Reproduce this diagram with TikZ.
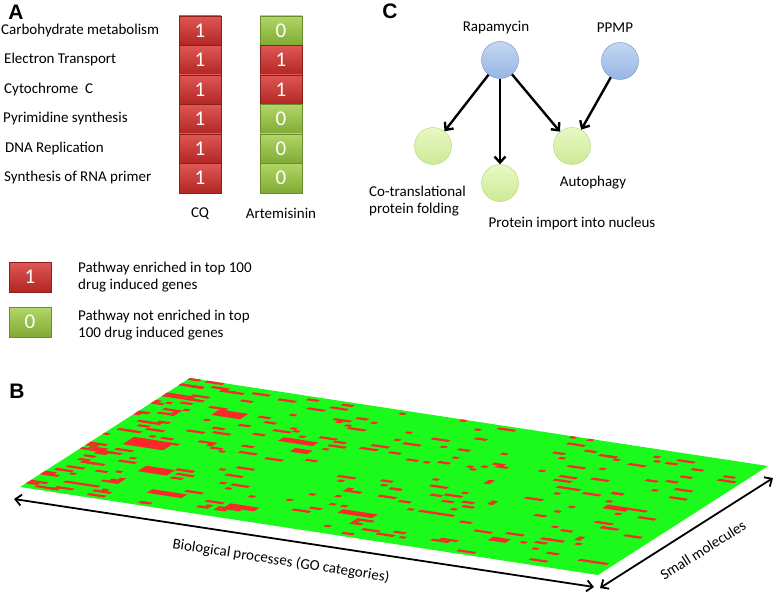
\documentclass[tikz,border=0pt]{standalone}
\usepackage{fontspec}
\setmainfont{Carlito}
\newfontfamily\headfont{Liberation Sans}
\usetikzlibrary{arrows.meta,positioning}

\definecolor{redtop}{RGB}{222,88,84}
\definecolor{redbot}{RGB}{178,38,36}
\definecolor{redline}{RGB}{140,30,30}
\definecolor{greentop}{RGB}{178,214,104}
\definecolor{greenbot}{RGB}{128,170,52}
\definecolor{greenline}{RGB}{105,140,45}
\definecolor{bluetop}{RGB}{196,214,242}
\definecolor{bluebot}{RGB}{150,182,228}
\definecolor{blueline}{RGB}{110,140,190}
\definecolor{leaftop}{RGB}{232,248,196}
\definecolor{leafbot}{RGB}{204,234,150}
\definecolor{leafline}{RGB}{175,212,120}
\definecolor{planegreen}{RGB}{28,250,28}
\definecolor{planered}{RGB}{250,40,40}

\begin{document}
\begin{tikzpicture}[
  x=1pt, y=-1pt,
  txt/.style={font=\fontsize{15}{17.5}\selectfont, inner sep=0pt},
  panel/.style={font=\headfont\bfseries\fontsize{21}{21}\selectfont, inner sep=0pt},
  cell1/.style={rectangle, draw=redline, top color=redtop, bottom color=redbot,
    minimum width=42pt, minimum height=29.5pt, inner sep=0pt, text=white,
    font=\fontsize{21}{21}\selectfont},
  cell0/.style={cell1, draw=greenline, top color=greentop, bottom color=greenbot},
  drug/.style={circle, draw=blueline, top color=bluetop, bottom color=bluebot, minimum size=37pt, inner sep=0pt},
  term/.style={circle, draw=leafline, top color=leaftop, bottom color=leafbot, minimum size=37pt, inner sep=0pt},
  link/.style={-{Straight Barb[length=6pt,width=11pt]}, line width=2.4pt},
  axis/.style={{Straight Barb[length=6pt,width=11pt]}-{Straight Barb[length=6pt,width=11pt]}, line width=1.8pt},
  patch/.style={fill=planered}
]
\useasboundingbox (0,0) rectangle (778,599);

% panel A
\node[panel] (labA) at (16,12) {A};
\foreach \lab/\lx/\a/\b [count=\i] in {Carbohydrate metabolism/1/1/0, Electron Transport/4/1/1,
  Cytochrome~~C/4/1/1, Pyrimidine synthesis/3/1/0, DNA Replication/5/1/0, Synthesis of RNA primer/4/1/0}{
  \node[txt, anchor=west] (path\i) at (\lx,{1+29.5*\i}) {\lab};
  \node[cell\a] (cq\i) at (200,{1+29.5*\i}) {\a};
  \node[cell\b] (art\i) at (281,{1+29.5*\i}) {\b};
}
\node[txt, below=15pt of cq6] (cq) {CQ};
\node[txt, below=15pt of art6] (art) {Artemisinin};

% legend
\node[cell1] (key1) at (30,277) {1};
\node[cell0] (key0) at (30,322) {0};
\node[txt, anchor=west, align=left] (keytext1) at (78,277) {Pathway enriched in top 100\\drug induced genes};
\node[txt, anchor=west, align=left] (keytext0) at (78,325) {Pathway not enriched in top\\100 drug induced genes};

% panel C
\node[panel] (labC) at (390,11) {C};
\node[drug] (rap) at (500,60) {};
\node[drug] (ppmp) at (620,61) {};
\node[term] (fold) at (433,146) {};
\node[term] (imp) at (500,183) {};
\node[term] (auto) at (572,146) {};
\node[txt] (raplab) at (496,28) {Rapamycin};
\node[txt] (ppmplab) at (615,28) {PPMP};
\node[txt, anchor=west, align=left] (foldlab) at (369,201) {Co-translational\\protein folding};
\node[txt] (implab) at (572,223) {Protein import into nucleus};
\node[txt] (autolab) at (593,183) {Autophagy};
\draw[link] (rap) -- (fold);
\draw[link] (rap) -- (imp);
\draw[link] (rap) -- (auto);
\draw[link] (ppmp) -- (auto);

% panel B
\node[panel] (labB) at (17,391) {B};
\begin{scope}[shift={(190,378)}, x={(578pt,-88pt)}, y={(-170pt,-109pt)}]
  \fill[planegreen] (0,0) -- (1,0) -- (1,1) -- (0,1) -- cycle;
  \pgfmathsetseed{4242}
  % scattered hits
  \foreach \k in {1,...,150}{
    \pgfmathsetmacro\cw{int(1+rnd*3)}
    \pgfmathsetmacro\cx{int(rnd*(100-\cw))}
    \pgfmathsetmacro\cy{int(rnd*59)}
    \fill[patch] (\cx/100,\cy/60) -- ++(\cw/100,0) -- ++(0,1/60) -- ++(-\cw/100,0) -- cycle;
  }
  % denser on the left
  \foreach \k in {1,...,130}{
    \pgfmathsetmacro\cw{int(1+rnd*3)}
    \pgfmathsetmacro\cu{rnd}
    \pgfmathsetmacro\cx{int(\cu*\cu*(100-\cw))}
    \pgfmathsetmacro\cy{int(rnd*59)}
    \fill[patch] (\cx/100,\cy/60) -- ++(\cw/100,0) -- ++(0,1/60) -- ++(-\cw/100,0) -- cycle;
  }
  % a few clusters
  \foreach \px/\py/\pw/\ph in {5/30/7/4, 11/12/5/3, 26/20/6/2, 13/42/5/3, 33/53/5/2, 50/48/6/2, 77/50/3/2, 86/28/4/2, 19/52/6/2, 30/24/3/2}{
    \fill[patch] (\px/100,\py/60) -- ++(\pw/100,0) -- ++(0,\ph/60) -- ++(-\pw/100,0) -- cycle;
  }
\end{scope}
\coordinate (bioL) at (14,499);
\coordinate (bioR) at (594,587);
\coordinate (molL) at (600,588);
\coordinate (molR) at (773,478);
\draw[axis] (bioL) -- (bioR);
\draw[axis] (molL) -- (molR);
\node[txt, rotate=-8.8] (biolab) at (281,561) {Biological processes (GO categories)};
\node[txt, rotate=32.4] (mollab) at (703,550) {Small molecules};
\end{tikzpicture}
\end{document}
